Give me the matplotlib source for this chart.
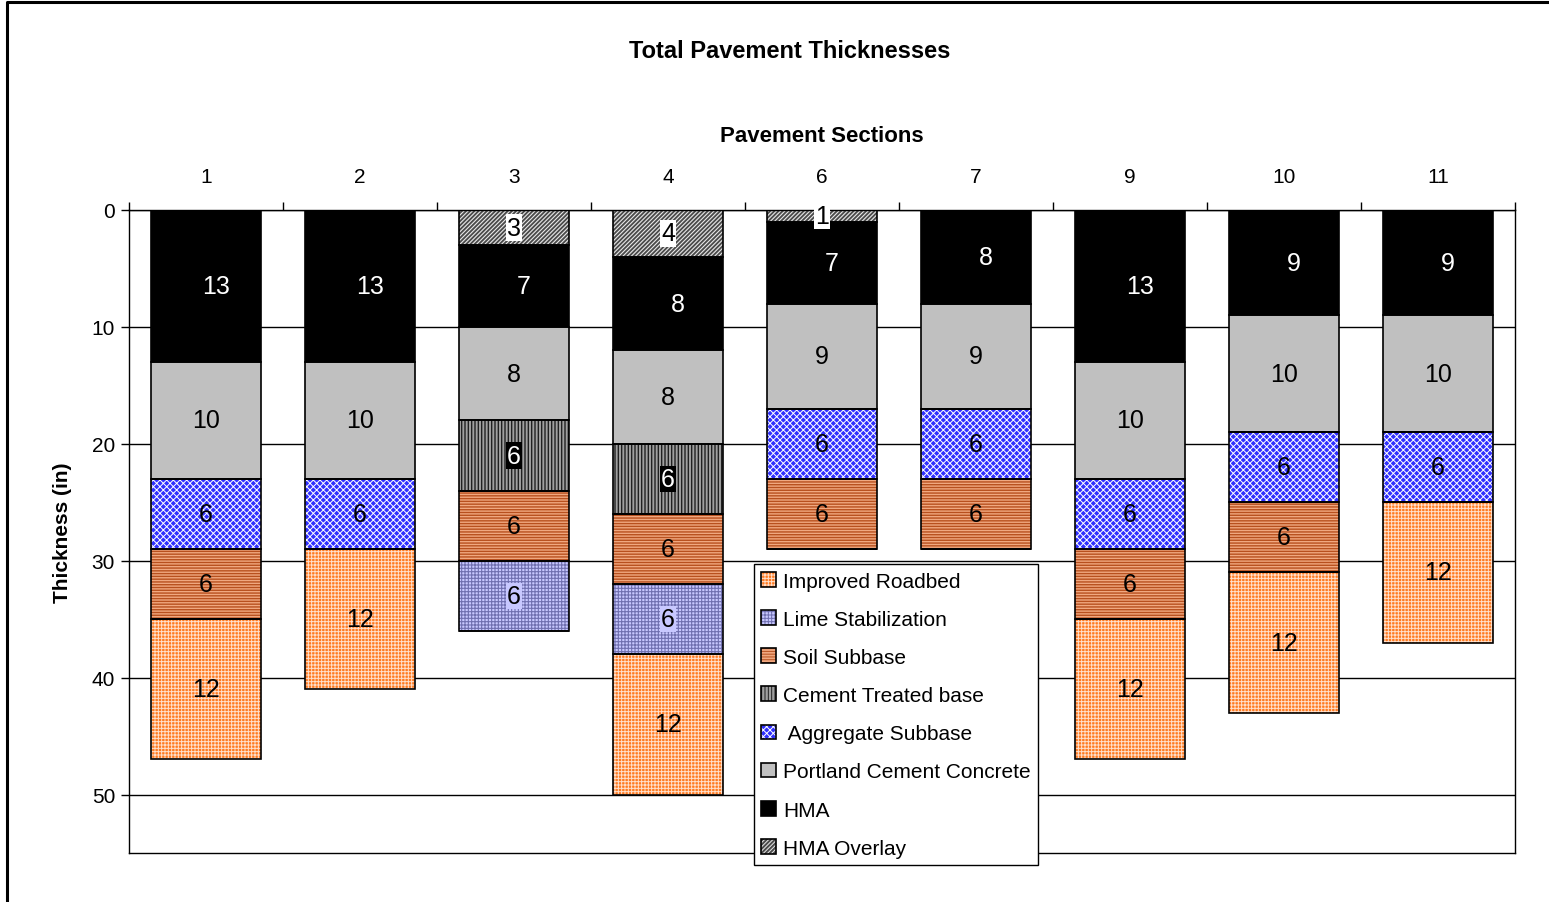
import matplotlib
matplotlib.use("Agg")
import matplotlib.pyplot as plt
from matplotlib.patches import Patch
from matplotlib.legend_handler import HandlerTuple
from matplotlib.lines import Line2D
import numpy as np

plt.rcParams['font.family'] = ['Liberation Sans', 'DejaVu Sans']

sections = ['1', '2', '3', '4', '6', '7', '9', '10', '11']
hma_overlay = [0, 0, 3, 4, 1, 0, 0, 0, 0]
hma = [13, 13, 7, 8, 7, 8, 13, 9, 9]
pcc = [10, 10, 8, 8, 9, 9, 10, 10, 10]
cement_treated = [0, 0, 6, 6, 0, 0, 0, 0, 0]
aggregate = [6, 6, 0, 0, 6, 6, 6, 6, 6]
soil = [6, 0, 6, 6, 6, 6, 6, 6, 0]
lime = [0, 0, 6, 6, 0, 0, 0, 0, 0]
roadbed = [12, 12, 0, 12, 0, 0, 12, 12, 12]

layer_names = ['HMA Overlay', 'HMA', 'Portland Cement Concrete', 'Cement Treated base',
               ' Aggregate Subbase', 'Soil Subbase', 'Lime Stabilization', 'Improved Roadbed']
layer_values = [hma_overlay, hma, pcc, cement_treated, aggregate, soil, lime, roadbed]
legend_order = ['Improved Roadbed', 'Lime Stabilization', 'Soil Subbase', 'Cement Treated base',
                ' Aggregate Subbase', 'Portland Cement Concrete', 'HMA', 'HMA Overlay']
# face, hatch, hatch color, hatch lw, label color, label bbox color
styles = [
    ('#4A4A4A', '////////', '#E8E8E8', 0.8, 'black', 'white'),
    ('#000000', None, '#000000', 1.0, 'white', None),
    ('#C0C0C0', None, '#C0C0C0', 1.0, 'black', None),
    ('#A0A0A0', '|||||', '#202020', 1.0, 'white', 'black'),
    ('#3030FF', 'xxxxx', '#FFFFFF', 0.7, 'black', None),
    ('#F0A880', '------', '#B8501E', 1.0, 'black', None),
    ('#C8C8FF', '+++++', '#7070B0', 0.8, 'black', '#C8C8FF'),
    ('#FF7A20', '+++++', '#FFE0CC', 0.7, 'black', None),
]

fig = plt.figure(figsize=(15.49, 9.03), dpi=100)
ax = fig.add_axes([129/1549, 1-854/903, (1515-129)/1549, (854-211)/903])

x = np.arange(len(sections))
width = 0.72
bottom = np.zeros(len(sections))
handles = {}
for name, vals, st in zip(layer_names, layer_values, styles):
    face, hatch, hcol, hlw, tcol, bcol = st
    plt.rcParams['hatch.linewidth'] = hlw
    vals = np.array(vals, dtype=float)
    ax.bar(x, vals, width, bottom=bottom, color=face, hatch=hatch,
           edgecolor=hcol, linewidth=0, zorder=2)
    ax.bar(x, vals, width, bottom=bottom, fill=False, edgecolor='black',
           linewidth=1.2, zorder=3)
    for i, v in enumerate(vals):
        if v > 0:
            dx = 7 if name == 'HMA' else 0
            kw = {}
            if bcol is not None:
                kw['bbox'] = dict(boxstyle='square,pad=0.05', fc=bcol, ec='none')
            ax.annotate(f'{int(v)}', (x[i], bottom[i] + v/2), xytext=(dx, 0),
                        textcoords='offset points', ha='center', va='center',
                        fontsize=18, color=tcol, zorder=4, **kw)
    bottom += vals
    h1 = Patch(facecolor=face, hatch=hatch, edgecolor=hcol, linewidth=0)
    h2 = Patch(fill=False, edgecolor='black', linewidth=1.2)
    handles[name] = (h1, h2)

ax.set_ylim(55, 0)
ax.set_xlim(-0.5, len(sections) - 0.5)
ax.set_yticks([0, 10, 20, 30, 40, 50])
ax.tick_params(axis='y', labelsize=15, length=6, width=1, direction='out', pad=4)
ax.yaxis.grid(True, color='black', linewidth=1, zorder=0)
ax.set_axisbelow(True)

ax.xaxis.tick_top()
ax.set_xticks(np.arange(len(sections) + 1) - 0.5)
ax.set_xticklabels([])
ax.set_xticks(x, minor=True)
ax.set_xticklabels(sections, minor=True, fontsize=15)
ax.tick_params(axis='x', which='major', length=6, width=1, top=True, bottom=False)
ax.tick_params(axis='x', which='minor', length=0, top=True, bottom=False, pad=17)
ax.xaxis.set_label_position('top')
ax.set_xlabel('Pavement Sections', fontsize=16, fontweight='bold', labelpad=19)
ax.set_ylabel('Thickness (in)', fontsize=15, fontweight='bold', labelpad=14)
for s in ax.spines.values():
    s.set_linewidth(1)
    s.set_color('black')

fig.text(790/1549, 1-52/903, 'Total Pavement Thicknesses', ha='center', va='center',
         fontsize=17, fontweight='bold')

leg = fig.legend([handles[n] for n in legend_order], legend_order,
                 loc='lower left', bbox_to_anchor=(754/1549, 1-866/903),
                 bbox_transform=fig.transFigure, borderaxespad=0, fontsize=15,
                 handler_map={tuple: HandlerTuple(ndivide=1)},
                 handlelength=0.7, handleheight=0.7, handletextpad=0.35,
                 labelspacing=0.92, borderpad=0.35, fancybox=False, framealpha=1,
                 edgecolor='black')
leg.get_frame().set_linewidth(1)

fig.add_artist(Line2D([7/1549, 7/1549, 1], [0, 1-3/903, 1-3/903],
                      transform=fig.transFigure, color='black', linewidth=2.2))

fig.savefig('out.png', dpi=100)
